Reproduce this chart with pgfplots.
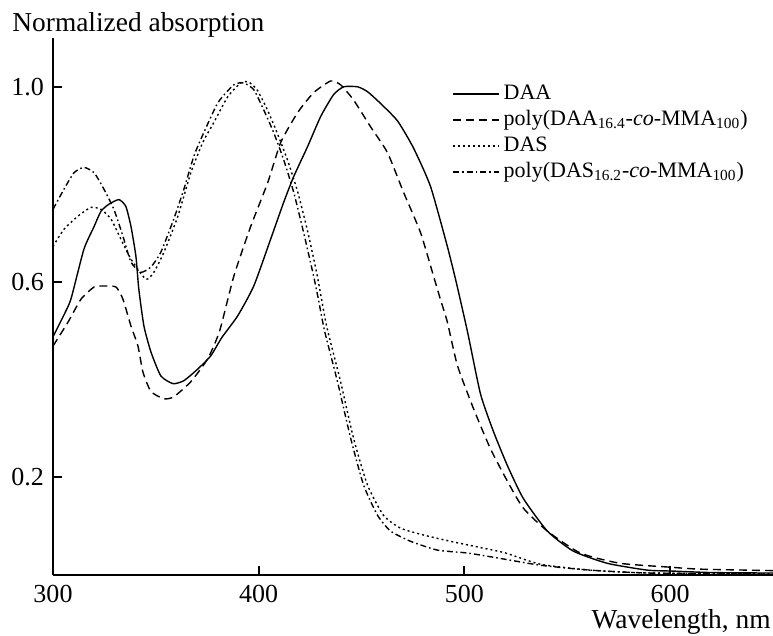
\documentclass[border=0pt]{standalone}
\usepackage{fontspec}
\setmainfont{Liberation Serif}
\usepackage{pgfplots}
\pgfplotsset{compat=1.18}
\usetikzlibrary{calc}
\begin{document}
\fontsize{13}{15.6}\selectfont
\begin{tikzpicture}
\begin{axis}[
  scale only axis, width=360pt, height=268.5pt,
  xmin=300, xmax=650, ymin=0, ymax=1.1,
  axis lines=left, axis line style={line width=1pt, -},
  xtick={300,400,500,600}, ytick={0.2,0.6,1.0},
  tick align=inside, major tick length=4.5pt,
  tick style={line width=1pt, black},
  /pgf/number format/assume math mode=true,
  yticklabel style={/pgf/number format/.cd, fixed, fixed zerofill, precision=1},
  xticklabel style={yshift=-0.5pt},
  ylabel={Normalized absorption},
  xlabel={Wavelength, nm},
  every axis y label/.style={at={(rel axis cs:0,1)}, anchor=base west, inner sep=0pt, xshift=-20.5pt, yshift=3pt, font=\fontsize{13.7}{16}\selectfont},
  every axis x label/.style={at={(rel axis cs:1,0)}, anchor=base east, inner sep=0pt, xshift=-1pt, yshift=-26.5pt, font=\fontsize{13.7}{16}\selectfont},
  legend style={draw=none, fill=none, at={(rel axis cs:0.554,0.918)}, anchor=north west,
    font=\fontsize{11}{13}\selectfont, inner sep=0pt, row sep=1.5pt,
    nodes={inner ysep=0pt, text height=8.5pt, text depth=3pt}},
  legend cell align=left,
  legend image code/.code={\draw[#1] (0pt,0pt) -- (23pt,0pt);},
  every axis plot/.append style={line width=0.7pt, black, smooth, tension=0.35},
]
\addplot[solid] coordinates {
(300,0.488) (305,0.53) (308.7,0.565) (315,0.667) (320,0.714) (323.3,0.745) (327,0.759) (332,0.769) (335.4,0.755) (337.9,0.714) (340.3,0.653) (341.7,0.586) (344.2,0.510) (347.6,0.457) (352.4,0.408) (358.3,0.392) (363.6,0.398) (370.4,0.422) (376.7,0.449) (382,0.486) (389.8,0.531) (397.6,0.592) (405.8,0.688) (412.1,0.763) (417,0.816) (423.8,0.878) (430.1,0.939) (436.4,0.984) (441.3,1.0) (448.1,1.0) (452.9,0.99) (459.2,0.966) (467.5,0.930) (475.2,0.875) (483.5,0.796) (491.7,0.673) (496,0.6) (501.5,0.498) (507.8,0.371) (514.1,0.294) (520.9,0.224) (528.6,0.157) (540.3,0.090) (552.9,0.049) (569.4,0.024) (588.8,0.010) (601.5,0.008) (620,0.005) (650,0.004)
};
\addlegendentry{DAA}
\addplot[dash pattern=on 4pt off 2.5pt] coordinates {
(300,0.469) (307.3,0.518) (313.6,0.565) (320,0.59) (324.8,0.592) (330.6,0.59) (334,0.565) (337.9,0.51) (341.3,0.469) (343.7,0.416) (347.6,0.376) (353.9,0.361) (358.7,0.365) (367,0.396) (375.2,0.443) (381,0.50) (387.9,0.612) (396.1,0.714) (404.4,0.804) (410.7,0.886) (418.9,0.947) (426.7,0.988) (435,1.012) (439.8,1.004) (446.1,0.973) (454.4,0.918) (462.6,0.865) (470.4,0.784) (478.6,0.702) (485,0.612) (488.3,0.565) (491.7,0.518) (496.6,0.429) (504.4,0.341) (512.6,0.259) (520.9,0.192) (528.6,0.137) (540.3,0.09) (556.3,0.045) (575.7,0.024) (600,0.016) (614.6,0.012) (650,0.009)
};
\addlegendentry{poly(DAA\textsubscript{16.4}-\textit{co}-MMA\textsubscript{100})}
\addplot[dash pattern=on 1pt off 1.5pt] coordinates {
(300,0.673) (305.3,0.708) (312.1,0.735) (318.4,0.753) (323.3,0.749) (328.2,0.729) (333,0.688) (337.9,0.647) (345.1,0.606) (349,0.620) (353.9,0.661) (360.7,0.735) (367,0.824) (372.8,0.886) (378.2,0.927) (385,0.98) (391.3,1.008) (395,1.01) (399,0.995) (404,0.955) (409,0.905) (414,0.85) (419,0.784) (424,0.70) (428.5,0.612) (433,0.51) (439.8,0.396) (446.1,0.28) (452.9,0.184) (460.7,0.122) (468.9,0.096) (480,0.082) (493.2,0.069) (509.2,0.055) (520,0.045) (537,0.022) (561,0.01) (590,0.004) (650,0.002)
};
\addlegendentry{DAS}
\addplot[dash pattern=on 3pt off 1.5pt on 0.8pt off 1.5pt] coordinates {
(300,0.749) (305.3,0.79) (310.2,0.824) (315,0.835) (320,0.824) (324.8,0.79) (329.6,0.749) (334,0.694) (337.9,0.641) (342.7,0.620) (347.6,0.631) (352.4,0.661) (358.7,0.729) (363.6,0.79) (368.4,0.857) (371.8,0.892) (380.1,0.967) (387.9,1.004) (392.7,1.008) (397.6,0.994) (402.4,0.953) (407.3,0.906) (412.1,0.851) (417,0.784) (421.8,0.702) (426.7,0.612) (429,0.565) (432,0.50) (438.3,0.396) (444.7,0.280) (451,0.184) (457.8,0.122) (464.1,0.090) (473.8,0.069) (486.9,0.051) (501.5,0.045) (516,0.035) (537,0.02) (561,0.01) (590,0.004) (650,0.002)
};
\addlegendentry{poly(DAS\textsubscript{16.2}-\textit{co}-MMA\textsubscript{100})}
\end{axis}
\pgfresetboundingbox
\path ($(current axis.south west)+(-26.5pt,-30pt)$) rectangle ($(current axis.north east)+(0pt,19pt)$);
\end{tikzpicture}
\end{document}
